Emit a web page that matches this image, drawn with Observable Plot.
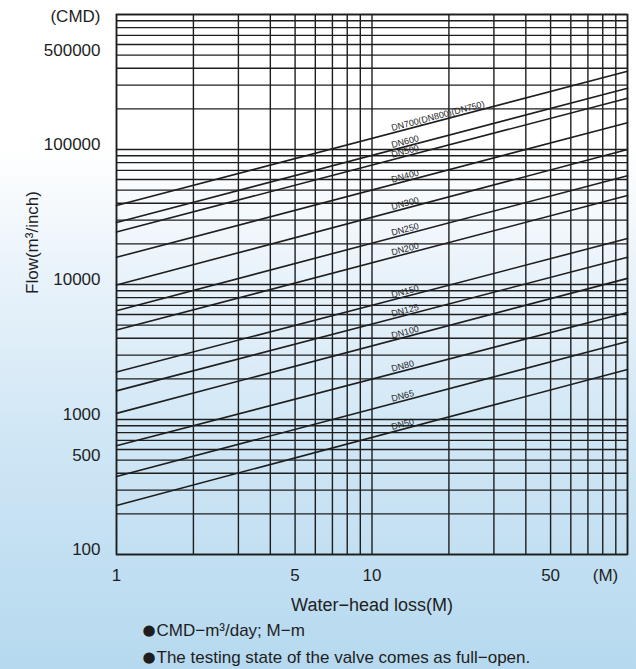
<!DOCTYPE html>
<html>
<head>
<meta charset="utf-8">
<script src="https://cdn.jsdelivr.net/npm/d3@7"></script>
<script src="https://cdn.jsdelivr.net/npm/@observablehq/plot@0.6"></script>
<style>
  html, body { margin: 0; padding: 0; }
  body { width: 636px; height: 669px; overflow: hidden;
    background: linear-gradient(to bottom, #ffffff 0%, #ffffff 22%, #e8f2fa 42%, #cfe6f5 66%, #b6d9ef 100%); }
  #chart svg { display: block; }
</style>
</head>
<body>
<div id="chart"></div>
<script>
// ---- data ----
const sizes = ["DN700(DN800)(DN750)", "DN600", "DN500", "DN400", "DN300", "DN250", "DN200",
               "DN150", "DN125", "DN100", "DN80", "DN65", "DN50"];
// flow (CMD) at water-head loss 1 M and at 100 M
const flowAtHead1   = [38500, 28800, 24500, 15900, 9900, 6400, 4600, 2250, 1630, 1110, 640, 378, 231];
const flowAtHead100 = [380000, 284000, 240000, 158000, 100000, 64000, 45600, 21900, 15900, 11100, 6200, 3780, 2350];
const headEnds = [1, 100];
const labelHead = 12;

const xTickValues = [1, 5, 10, 50];
const yTickValues = [100, 500, 1000, 10000, 100000, 500000];
const xGridValues = [1, 2, 3, 4, 5, 6, 7, 8, 9, 10, 20, 30, 40, 50, 60, 70, 80, 90, 100];
const yGridValues = [100, 200, 300, 400, 500, 600, 700, 800, 900,
                     1000, 2000, 3000, 4000, 5000, 6000, 7000, 8000, 9000,
                     10000, 20000, 30000, 40000, 50000, 60000, 70000, 80000, 90000,
                     100000, 200000, 300000, 400000, 500000, 600000, 700000, 800000, 900000, 1000000];
const xDomain = [1, 100];
const yDomain = [100, 1000000];
const notes = ["CMD−m³/day; M−m", "The testing state of the valve comes as full−open."];

// ---- build tables ----
const lineRows = sizes.flatMap((dn, i) => [
  {dn, head: headEnds[0], flow: flowAtHead1[i]},
  {dn, head: headEnds[1], flow: flowAtHead100[i]}
]);
const labelRows = sizes.map((dn, i) => {
  const t = (Math.log10(labelHead) - Math.log10(headEnds[0])) / (Math.log10(headEnds[1]) - Math.log10(headEnds[0]));
  const lf = Math.log10(flowAtHead1[i]) + t * (Math.log10(flowAtHead100[i]) - Math.log10(flowAtHead1[i]));
  return {dn, head: labelHead, flow: Math.pow(10, lf)};
});

const W = 636, H = 669;
const mL = 116, mR = 9, mT = 14, mB = 115;
const pxPerDecX = (W - mL - mR) / Math.log10(xDomain[1] / xDomain[0]);
const pxPerDecY = (H - mT - mB) / Math.log10(yDomain[1] / yDomain[0]);
const avgSlope = d3.mean(sizes, (d, i) => Math.log10(flowAtHead100[i] / flowAtHead1[i]) / Math.log10(headEnds[1] / headEnds[0]));
const angle = Math.atan(avgSlope * pxPerDecY / pxPerDecX) * 180 / Math.PI;

const font = "'Liberation Sans', Arial, sans-serif";
const ink = "#1e1e1e";

const chart = Plot.plot({
  width: W, height: H,
  marginLeft: mL, marginRight: mR, marginTop: mT, marginBottom: mB,
  style: {background: "transparent", fontFamily: font, color: ink, overflow: "visible"},
  x: {type: "log", domain: xDomain, axis: null},
  y: {type: "log", domain: yDomain, axis: null},
  marks: [
    Plot.gridX(xGridValues, {stroke: ink, strokeOpacity: 1, strokeWidth: 1.4}),
    Plot.gridY(yGridValues, {stroke: ink, strokeOpacity: 1, strokeWidth: 1.4}),
    Plot.frame({stroke: ink, strokeWidth: 1.6}),
    Plot.line(lineRows, {x: "head", y: "flow", z: "dn", stroke: ink, strokeWidth: 1.6}),
    Plot.text(labelRows, {x: "head", y: "flow", text: "dn", rotate: -angle, textAnchor: "start",
      lineAnchor: "bottom", dy: -2, fontSize: 9, fill: ink,
      fontFamily: "'Liberation Sans Narrow', 'Liberation Sans', sans-serif"}),
    // x tick labels
    Plot.text(xTickValues, {x: d => d, frameAnchor: "bottom", text: d => String(d), textAnchor: "middle",
      lineAnchor: "middle", dy: 21, fontSize: 17, fill: ink}),
    // y tick labels
    Plot.text(yTickValues, {y: d => d, frameAnchor: "left", text: d => String(d), textAnchor: "end",
      lineAnchor: "middle", dx: -16, dy: -5, fontSize: 17, fill: ink}),
    Plot.text(["(CMD)"], {frameAnchor: "top-left", textAnchor: "end", lineAnchor: "middle", dx: -16, dy: 2, fontSize: 17, fill: ink}),
    Plot.text(["(M)"], {frameAnchor: "bottom-right", textAnchor: "middle", lineAnchor: "middle", dx: -22, dy: 21, fontSize: 17, fill: ink}),
    Plot.text(["Flow(m³/inch)"], {frameAnchor: "left", rotate: -90, textAnchor: "middle", lineAnchor: "middle", dx: -84, dy: -42, fontSize: 17, fill: ink}),
    Plot.text(["Water−head loss(M)"], {frameAnchor: "bottom", textAnchor: "middle", lineAnchor: "middle", dy: 51, fontSize: 18, fill: ink}),
    // notes with bullets
    Plot.text([notes[0]], {frameAnchor: "bottom-left", text: () => "●", textAnchor: "start", lineAnchor: "middle",
      dx: 26, dy: 76, fontSize: 15, fontFamily: "'DejaVu Sans', sans-serif", fill: ink}),
    Plot.text([notes[1]], {frameAnchor: "bottom-left", text: () => "●", textAnchor: "start", lineAnchor: "middle",
      dx: 26, dy: 103, fontSize: 15, fontFamily: "'DejaVu Sans', sans-serif", fill: ink}),
    Plot.text([notes[0]], {frameAnchor: "bottom-left", textAnchor: "start", lineAnchor: "middle", dx: 40, dy: 76, fontSize: 17, fill: ink}),
    Plot.text([notes[1]], {frameAnchor: "bottom-left", textAnchor: "start", lineAnchor: "middle", dx: 40, dy: 103, fontSize: 17, fill: ink})
  ]
});
document.getElementById("chart").append(chart);
</script>
</body>
</html>
